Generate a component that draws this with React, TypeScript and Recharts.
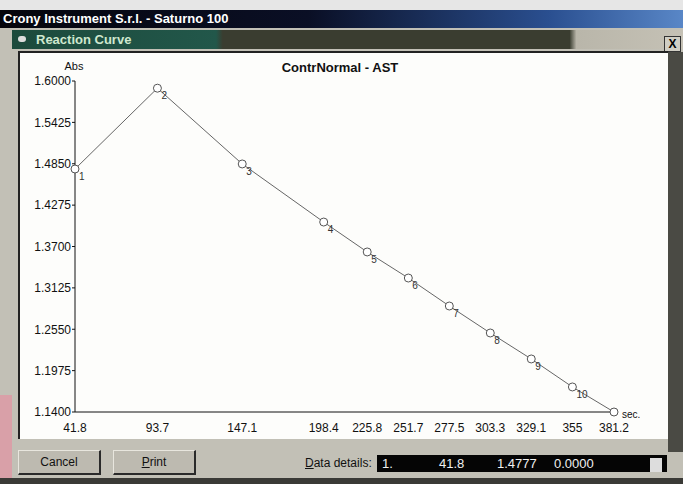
import React from 'react';
import { LineChart, Line, XAxis, YAxis } from 'recharts';

// Reaction curve readings (seconds, absorbance)
const times = [41.8, 93.7, 147.1, 198.4, 225.8, 251.7, 277.5, 303.3, 329.1, 355, 381.2];
const absValues = [1.4777, 1.59, 1.4847, 1.404, 1.3624, 1.3262, 1.2873, 1.2498, 1.2137, 1.1748, 1.14];
const yTicks = [1.6, 1.5425, 1.485, 1.4275, 1.37, 1.3125, 1.255, 1.1975, 1.14];

const data = times.map((t, i) => ({ t, abs: absValues[i] }));

const FONT = '"Liberation Sans Narrow", "Arial Narrow", "Liberation Sans", Arial, sans-serif';

const renderDot = (props: any) => {
  const { cx, cy, index } = props;
  const last = index === times.length - 1;
  return (
    <g key={`dot-${index}`}>
      <circle cx={cx} cy={cy} r={4} fill="#fff" stroke="#555" strokeWidth={1} />
      {!last && (
        <text x={cx + 4} y={cy + 11} fontSize={10} fontFamily={FONT} fill="#333">
          {index + 1}
        </text>
      )}
    </g>
  );
};

function Button({ left, label }: { left: number; label: React.ReactNode }) {
  return (
    <div
      style={{
        position: 'absolute',
        left,
        top: 450,
        width: 80,
        height: 22,
        background: '#bdbab0',
        borderTop: '1px solid #e8e6de',
        borderLeft: '1px solid #e8e6de',
        borderRight: '2px solid #2a2a2a',
        borderBottom: '2px solid #2a2a2a',
        fontFamily: FONT,
        fontSize: 12,
        lineHeight: '22px',
        textAlign: 'center',
        color: '#111',
      }}
    >
      {label}
    </div>
  );
}

export default function App() {
  return (
    <div
      style={{
        position: 'absolute',
        left: 0,
        top: 0,
        width: 683,
        height: 484,
        overflow: 'hidden',
        background: '#c2c0b6',
      }}
    >
      {/* photo background strip */}
      <div style={{ position: 'absolute', left: 0, top: 0, width: 683, height: 10, background: '#e6e6e6' }} />
      {/* application title bar */}
      <div
        style={{
          position: 'absolute',
          left: 0,
          top: 10,
          width: 683,
          height: 18,
          background: 'linear-gradient(to right, #05050c 0%, #0a0f25 45%, #2a4f90 80%, #5a88c8 100%)',
          color: '#fff',
          fontFamily: FONT,
          fontWeight: 'bold',
          fontSize: 13,
          lineHeight: '18px',
          paddingLeft: 3,
        }}
      >
        Crony Instrument S.r.l. - Saturno 100
      </div>
      {/* left pink artifact */}
      <div style={{ position: 'absolute', left: 0, top: 395, width: 12, height: 89, background: '#d9a0a8' }} />
      {/* child window title */}
      <div
        style={{
          position: 'absolute',
          left: 12,
          top: 30,
          width: 656,
          height: 19,
          background: 'linear-gradient(to right, #1c4a3c 0%, #22574a 30%, #3a3d30 31%, #3a3d30 82%, #b9b6aa 83%, #c6c2b6 100%)',
          color: '#cfe8cf',
          fontFamily: FONT,
          fontWeight: 'bold',
          fontSize: 13,
          lineHeight: '19px',
          paddingLeft: 24,
        }}
      >
        <span style={{ position: 'absolute', left: 6, top: 6, width: 8, height: 6, background: '#ddd', borderRadius: 3 }} />
        Reaction Curve
      </div>
      <div
        style={{
          position: 'absolute',
          left: 664,
          top: 36,
          width: 15,
          height: 14,
          background: '#d0cec4',
          border: '1px solid #333',
          fontFamily: FONT,
          fontWeight: 'bold',
          fontSize: 12,
          lineHeight: '14px',
          textAlign: 'center',
        }}
      >
        X
      </div>
      {/* right dark edge */}
      <div style={{ position: 'absolute', left: 668, top: 52, width: 15, height: 400, background: '#4a4a44' }} />
      {/* white plot area */}
      <div
        style={{
          position: 'absolute',
          left: 18,
          top: 51,
          width: 648,
          height: 386,
          background: '#fdfdfb',
          borderLeft: '2px solid #222',
          borderTop: '2px solid #222',
        }}
      />
      <LineChart
        width={683}
        height={484}
        data={data}
        margin={{ top: 81, right: 69, bottom: 0, left: 0 }}
        style={{ position: 'absolute', left: 0, top: 0 }}
      >
        <XAxis
          dataKey="t"
          type="number"
          domain={[41.8, 381.2]}
          ticks={times}
          height={72}
          axisLine={{ stroke: '#111', strokeWidth: 1 }}
          tickLine={false}
          tickMargin={5}
          tick={{ fontSize: 12, fontFamily: FONT, fill: '#111' }}
          tickFormatter={(v: number) => String(v)}
          interval={0}
        />
        <YAxis
          dataKey="abs"
          type="number"
          domain={[1.14, 1.6]}
          ticks={yTicks}
          width={75}
          axisLine={{ stroke: '#111', strokeWidth: 1 }}
          tickLine={{ stroke: '#111' }}
          tickSize={3}
          tickMargin={1}
          tick={{ fontSize: 12, fontFamily: FONT, fill: '#111' }}
          tickFormatter={(v: number) => v.toFixed(4)}
          interval={0}
        />
        <Line
          dataKey="abs"
          stroke="#666"
          strokeWidth={1}
          dot={renderDot}
          isAnimationActive={false}
        />
        <text x={74} y={70} fontSize={11} fontFamily={FONT} fill="#111" textAnchor="middle">Abs</text>
        <text x={340} y={72} fontSize={13} fontWeight="bold" fontFamily={FONT} fill="#111" textAnchor="middle">
          ContrNormal - AST
        </text>
        <text x={622} y={418} fontSize={10} fontFamily={FONT} fill="#111">sec.</text>
      </LineChart>
      {/* bottom bar */}
      <Button left={18} label="Cancel" />
      <Button left={113} label={<><u>P</u>rint</>} />
      <div
        style={{
          position: 'absolute',
          left: 305,
          top: 455,
          fontFamily: FONT,
          fontSize: 12,
          lineHeight: '16px',
          color: '#111',
        }}
      >
        <u>D</u>ata details:
      </div>
      <div
        style={{
          position: 'absolute',
          left: 377,
          top: 455,
          width: 290,
          height: 17,
          background: '#050505',
          color: '#f0f0f0',
          fontFamily: FONT,
          fontSize: 13,
          lineHeight: '17px',
        }}
      >
        <span style={{ position: 'absolute', left: 5 }}>1.</span>
        <span style={{ position: 'absolute', left: 62 }}>41.8</span>
        <span style={{ position: 'absolute', left: 120 }}>1.4777</span>
        <span style={{ position: 'absolute', left: 177 }}>0.0000</span>
        <span style={{ position: 'absolute', left: 273, top: 3, width: 12, height: 11, background: '#ddd', borderTop: '3px solid #ddd' }} />
      </div>
      <div style={{ position: 'absolute', left: 0, top: 478, width: 683, height: 6, background: '#3a3a36' }} />
    </div>
  );
}
